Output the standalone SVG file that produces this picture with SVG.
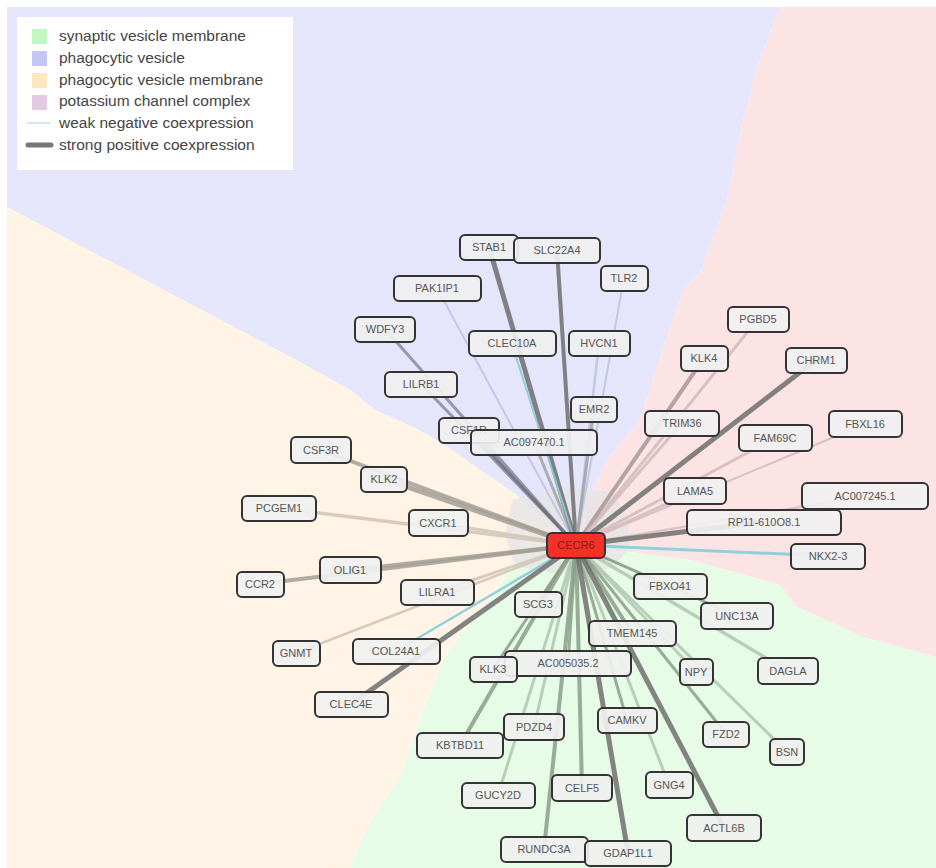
<svg xmlns="http://www.w3.org/2000/svg" width="936" height="868" viewBox="0 0 936 868">
<style>
.n rect{fill:#f0f0f0;fill-opacity:0.92;stroke:#333;stroke-width:2}
.n text{font-family:"Liberation Sans",Arial,sans-serif;font-size:11px;fill:#555;text-anchor:middle}
.lg{font-family:"Liberation Sans",Arial,sans-serif;font-size:15.5px;fill:#444}
#edges line{stroke-linecap:butt}
.g{stroke:#6e6e6e;stroke-opacity:0.85}
.gl{stroke:#9a9a9a;stroke-opacity:0.75}
.b{stroke:#8a8aa6;stroke-opacity:0.85}
.bl{stroke:#c2c2e4;stroke-opacity:0.9}
.p{stroke:#a89898;stroke-opacity:0.85}
.pl{stroke:#d4bcbc;stroke-opacity:0.9}
.o{stroke:#a49e94;stroke-opacity:0.85}
.ol{stroke:#d2c8b8;stroke-opacity:0.9}
.v{stroke:#8a9e8a;stroke-opacity:0.85}
.vl{stroke:#b4c8b4;stroke-opacity:0.9}
.c{stroke:#86ccd8;stroke-opacity:0.9}
</style>
<rect x="0" y="0" width="936" height="868" fill="#fff"/>
<g id="regions">
<polygon fill="#e5e5fb" points="7,7 780,7 757,67 740,133 727,200 700,273 683,290 660,357 640,420 607,460 590,495 576,545 510,490 480,470 445,445 415,428 375,410 350,390 300,362 7,207"/>
<polygon fill="#fde4e4" points="780,7 936,7 936,657 863,637 797,607 780,585 690,560 576,545 590,495 607,460 640,420 660,357 683,290 700,273 727,200 740,133 757,67"/>
<polygon fill="#fff4e6" points="7,207 300,362 350,390 375,410 415,428 445,445 480,470 510,490 576,545 520,555 490,600 460,635 443,660 430,693 400,777 367,827 350,868 7,868"/>
<polygon fill="#e6fce6" points="576,545 690,560 780,585 797,607 863,637 936,657 936,868 350,868 367,827 400,777 430,693 443,660 460,635 490,600 520,555"/>
<polygon fill="#e4e4e4" fill-opacity="0.75" points="512,500 560,488 610,492 628,515 630,548 612,568 560,574 515,566 505,535"/>
</g>
<g id="legend">
<rect x="17" y="17" width="276" height="153" fill="#fff"/>
<rect x="32" y="29" width="15" height="15" fill="#c2f6c2"/>
<rect x="32" y="51" width="15" height="15" fill="#c6c6f6"/>
<rect x="32" y="73" width="15" height="15" fill="#fde6c2"/>
<rect x="32" y="95" width="15" height="15" fill="#e2cae2"/>
<line x1="27" y1="123" x2="51" y2="123" stroke="#bfe2e8" stroke-width="1.5"/>
<line x1="28" y1="145" x2="51" y2="145" stroke="#777" stroke-width="5" stroke-linecap="round"/>
<text class="lg" x="59" y="41">synaptic vesicle membrane</text>
<text class="lg" x="59" y="63">phagocytic vesicle</text>
<text class="lg" x="59" y="85">phagocytic vesicle membrane</text>
<text class="lg" x="59" y="106">potassium channel complex</text>
<text class="lg" x="59" y="128">weak negative coexpression</text>
<text class="lg" x="59" y="150">strong positive coexpression</text>
</g>
<g id="edges">
<line class="g" x1="576" y1="545" x2="489" y2="247" stroke-width="5"/>
<line class="g" x1="576" y1="545" x2="557" y2="250" stroke-width="4"/>
<line class="bl" x1="576" y1="545" x2="624" y2="278" stroke-width="2"/>
<line class="bl" x1="576" y1="545" x2="437" y2="288" stroke-width="2"/>
<line class="b" x1="576" y1="545" x2="385" y2="329" stroke-width="3"/>
<line class="c" x1="576" y1="545" x2="512" y2="344" stroke-width="2"/>
<line class="bl" x1="576" y1="545" x2="599" y2="343" stroke-width="2.5"/>
<line class="b" x1="576" y1="545" x2="421" y2="384" stroke-width="3"/>
<line class="gl" x1="576" y1="545" x2="594" y2="409" stroke-width="3"/>
<line class="g" x1="576" y1="545" x2="469" y2="430" stroke-width="3"/>
<line class="gl" x1="576" y1="545" x2="534" y2="442" stroke-width="3"/>
<line class="o" x1="576" y1="545" x2="321" y2="450" stroke-width="4"/>
<line class="o" x1="576" y1="545" x2="384" y2="479" stroke-width="5"/>
<line class="ol" x1="576" y1="545" x2="279" y2="508" stroke-width="3.5"/>
<line class="ol" x1="576" y1="545" x2="438" y2="523" stroke-width="3"/>
<line class="o" x1="576" y1="545" x2="350" y2="570" stroke-width="4"/>
<line class="o" x1="576" y1="545" x2="260" y2="584" stroke-width="4"/>
<line class="ol" x1="576" y1="545" x2="437" y2="592" stroke-width="3"/>
<line class="ol" x1="576" y1="545" x2="296" y2="653" stroke-width="2.5"/>
<line class="c" x1="576" y1="545" x2="396" y2="651" stroke-width="2.5"/>
<line class="g" x1="576" y1="545" x2="351" y2="704" stroke-width="5"/>
<line class="pl" x1="576" y1="545" x2="758" y2="319" stroke-width="3"/>
<line class="p" x1="576" y1="545" x2="704" y2="358" stroke-width="4"/>
<line class="g" x1="576" y1="545" x2="816" y2="360" stroke-width="5"/>
<line class="pl" x1="576" y1="545" x2="682" y2="423" stroke-width="3"/>
<line class="pl" x1="576" y1="545" x2="775" y2="438" stroke-width="3"/>
<line class="pl" x1="576" y1="545" x2="865" y2="424" stroke-width="2"/>
<line class="pl" x1="576" y1="545" x2="695" y2="491" stroke-width="3"/>
<line class="pl" x1="576" y1="545" x2="865" y2="496" stroke-width="2"/>
<line class="g" x1="576" y1="545" x2="764" y2="522" stroke-width="5"/>
<line class="c" x1="576" y1="545" x2="828" y2="556" stroke-width="3"/>
<line class="v" x1="576" y1="545" x2="538" y2="604" stroke-width="3"/>
<line class="vl" x1="576" y1="545" x2="670" y2="586" stroke-width="3"/>
<line class="v" x1="576" y1="545" x2="737" y2="616" stroke-width="3"/>
<line class="v" x1="576" y1="545" x2="632" y2="633" stroke-width="4"/>
<line class="v" x1="576" y1="545" x2="568" y2="663" stroke-width="3"/>
<line class="v" x1="576" y1="545" x2="493" y2="669" stroke-width="3"/>
<line class="vl" x1="576" y1="545" x2="696" y2="672" stroke-width="3"/>
<line class="vl" x1="576" y1="545" x2="788" y2="671" stroke-width="3.5"/>
<line class="vl" x1="576" y1="545" x2="534" y2="727" stroke-width="3"/>
<line class="v" x1="576" y1="545" x2="627" y2="720" stroke-width="3"/>
<line class="v" x1="576" y1="545" x2="460" y2="745" stroke-width="4"/>
<line class="v" x1="576" y1="545" x2="726" y2="734" stroke-width="3"/>
<line class="vl" x1="576" y1="545" x2="787" y2="752" stroke-width="3"/>
<line class="vl" x1="576" y1="545" x2="498" y2="795" stroke-width="3"/>
<line class="v" x1="576" y1="545" x2="582" y2="788" stroke-width="4"/>
<line class="vl" x1="576" y1="545" x2="669" y2="785" stroke-width="3"/>
<line class="g" x1="576" y1="545" x2="724" y2="828" stroke-width="5"/>
<line class="v" x1="576" y1="545" x2="544" y2="849" stroke-width="4"/>
<line class="g" x1="576" y1="545" x2="628" y2="853" stroke-width="5"/>
</g>
<g id="n-STAB1" class="n"><rect x="460" y="235" width="58" height="25" rx="5"/><text x="489" y="251">STAB1</text></g>
<g id="n-SLC22A4" class="n"><rect x="514" y="238" width="86" height="25" rx="5"/><text x="557" y="254">SLC22A4</text></g>
<g id="n-TLR2" class="n"><rect x="601" y="266" width="47" height="25" rx="5"/><text x="624" y="282">TLR2</text></g>
<g id="n-PAK1IP1" class="n"><rect x="394" y="276" width="87" height="25" rx="5"/><text x="437" y="292">PAK1IP1</text></g>
<g id="n-WDFY3" class="n"><rect x="355" y="317" width="60" height="25" rx="5"/><text x="385" y="333">WDFY3</text></g>
<g id="n-CLEC10A" class="n"><rect x="469" y="331" width="87" height="25" rx="5"/><text x="512" y="347">CLEC10A</text></g>
<g id="n-HVCN1" class="n"><rect x="569" y="331" width="61" height="25" rx="5"/><text x="599" y="347">HVCN1</text></g>
<g id="n-LILRB1" class="n"><rect x="385" y="372" width="72" height="25" rx="5"/><text x="421" y="388">LILRB1</text></g>
<g id="n-EMR2" class="n"><rect x="571" y="397" width="46" height="25" rx="5"/><text x="594" y="413">EMR2</text></g>
<g id="n-CSF1R" class="n"><rect x="439" y="418" width="60" height="25" rx="5"/><text x="469" y="434">CSF1R</text></g>
<g id="n-AC097470.1" class="n"><rect x="471" y="430" width="126" height="25" rx="5"/><text x="534" y="446">AC097470.1</text></g>
<g id="n-CSF3R" class="n"><rect x="291" y="437" width="60" height="26" rx="5"/><text x="321" y="454">CSF3R</text></g>
<g id="n-KLK2" class="n"><rect x="361" y="467" width="46" height="25" rx="5"/><text x="384" y="483">KLK2</text></g>
<g id="n-PCGEM1" class="n"><rect x="242" y="496" width="74" height="25" rx="5"/><text x="279" y="512">PCGEM1</text></g>
<g id="n-CXCR1" class="n"><rect x="409" y="510" width="59" height="26" rx="5"/><text x="438" y="527">CXCR1</text></g>
<g id="n-OLIG1" class="n"><rect x="320" y="557" width="61" height="26" rx="5"/><text x="350" y="574">OLIG1</text></g>
<g id="n-CCR2" class="n"><rect x="237" y="572" width="47" height="25" rx="5"/><text x="260" y="588">CCR2</text></g>
<g id="n-LILRA1" class="n"><rect x="401" y="580" width="73" height="25" rx="5"/><text x="437" y="596">LILRA1</text></g>
<g id="n-SCG3" class="n"><rect x="515" y="592" width="47" height="25" rx="5"/><text x="538" y="608">SCG3</text></g>
<g id="n-GNMT" class="n"><rect x="273" y="641" width="47" height="25" rx="5"/><text x="296" y="657">GNMT</text></g>
<g id="n-COL24A1" class="n"><rect x="353" y="639" width="87" height="25" rx="5"/><text x="396" y="655">COL24A1</text></g>
<g id="n-AC005035.2" class="n"><rect x="505" y="651" width="126" height="25" rx="5"/><text x="568" y="667">AC005035.2</text></g>
<g id="n-KLK3" class="n"><rect x="470" y="657" width="47" height="25" rx="5"/><text x="493" y="673">KLK3</text></g>
<g id="n-CLEC4E" class="n"><rect x="315" y="692" width="73" height="25" rx="5"/><text x="351" y="708">CLEC4E</text></g>
<g id="n-PGBD5" class="n"><rect x="728" y="307" width="61" height="25" rx="5"/><text x="758" y="323">PGBD5</text></g>
<g id="n-KLK4" class="n"><rect x="681" y="346" width="47" height="25" rx="5"/><text x="704" y="362">KLK4</text></g>
<g id="n-CHRM1" class="n"><rect x="786" y="348" width="61" height="25" rx="5"/><text x="816" y="364">CHRM1</text></g>
<g id="n-TRIM36" class="n"><rect x="645" y="411" width="74" height="25" rx="5"/><text x="682" y="427">TRIM36</text></g>
<g id="n-FAM69C" class="n"><rect x="739" y="425" width="73" height="26" rx="5"/><text x="775" y="442">FAM69C</text></g>
<g id="n-FBXL16" class="n"><rect x="829" y="411" width="73" height="26" rx="5"/><text x="865" y="428">FBXL16</text></g>
<g id="n-LAMA5" class="n"><rect x="664" y="478" width="62" height="26" rx="5"/><text x="695" y="495">LAMA5</text></g>
<g id="n-AC007245.1" class="n"><rect x="802" y="483" width="126" height="26" rx="5"/><text x="865" y="500">AC007245.1</text></g>
<g id="n-RP11-610O8.1" class="n"><rect x="687" y="510" width="154" height="25" rx="5"/><text x="764" y="526">RP11-610O8.1</text></g>
<g id="n-NKX2-3" class="n"><rect x="791" y="544" width="74" height="25" rx="5"/><text x="828" y="560">NKX2-3</text></g>
<g id="n-FBXO41" class="n"><rect x="634" y="574" width="73" height="25" rx="5"/><text x="670" y="590">FBXO41</text></g>
<g id="n-UNC13A" class="n"><rect x="701" y="603" width="72" height="26" rx="5"/><text x="737" y="620">UNC13A</text></g>
<g id="n-TMEM145" class="n"><rect x="589" y="621" width="87" height="25" rx="5"/><text x="632" y="637">TMEM145</text></g>
<g id="n-NPY" class="n"><rect x="680" y="659" width="33" height="26" rx="5"/><text x="696" y="676">NPY</text></g>
<g id="n-DAGLA" class="n"><rect x="758" y="658" width="60" height="26" rx="5"/><text x="788" y="675">DAGLA</text></g>
<g id="n-PDZD4" class="n"><rect x="504" y="714" width="60" height="26" rx="5"/><text x="534" y="731">PDZD4</text></g>
<g id="n-CAMKV" class="n"><rect x="598" y="708" width="59" height="25" rx="5"/><text x="627" y="724">CAMKV</text></g>
<g id="n-KBTBD11" class="n"><rect x="417" y="733" width="86" height="25" rx="5"/><text x="460" y="749">KBTBD11</text></g>
<g id="n-FZD2" class="n"><rect x="703" y="722" width="46" height="25" rx="5"/><text x="726" y="738">FZD2</text></g>
<g id="n-BSN" class="n"><rect x="770" y="739" width="34" height="26" rx="5"/><text x="787" y="756">BSN</text></g>
<g id="n-GUCY2D" class="n"><rect x="462" y="783" width="73" height="25" rx="5"/><text x="498" y="799">GUCY2D</text></g>
<g id="n-CELF5" class="n"><rect x="552" y="775" width="60" height="26" rx="5"/><text x="582" y="792">CELF5</text></g>
<g id="n-GNG4" class="n"><rect x="646" y="772" width="47" height="26" rx="5"/><text x="669" y="789">GNG4</text></g>
<g id="n-ACTL6B" class="n"><rect x="687" y="815" width="74" height="26" rx="5"/><text x="724" y="832">ACTL6B</text></g>
<g id="n-RUNDC3A" class="n"><rect x="501" y="837" width="87" height="25" rx="5"/><text x="544" y="853">RUNDC3A</text></g>
<g id="n-GDAP1L1" class="n"><rect x="585" y="841" width="86" height="25" rx="5"/><text x="628" y="857">GDAP1L1</text></g>
<g id="n-CECR6" class="n"><rect x="547" y="533" width="58" height="25" rx="5" style="fill:#f23228;fill-opacity:1"/><text x="576" y="549" style="fill:#8a1a14">CECR6</text></g>
</svg>
